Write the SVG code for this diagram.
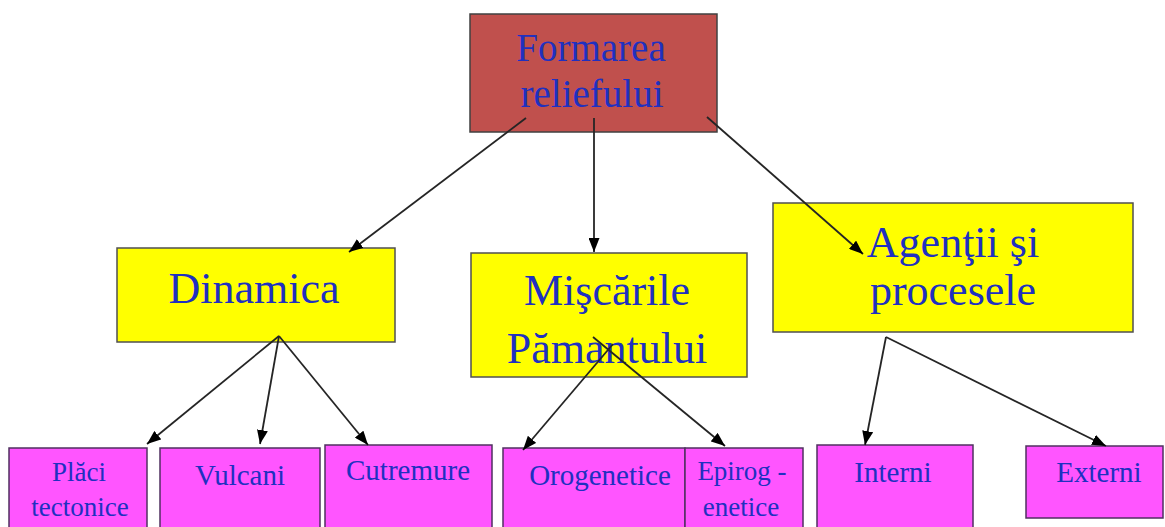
<svg xmlns="http://www.w3.org/2000/svg" width="1165" height="527" viewBox="0 0 1165 527">
  <style>
    .root { fill: #C0504D; stroke: #404040; stroke-width: 1.5; }
    .mid { fill: #FFFF00; stroke: #505050; stroke-width: 1.5; }
    .leaf { fill: #FF55FF; stroke: #503060; stroke-width: 1.5; }
    text { font-family: "Liberation Serif", "Times New Roman", serif; fill: #2030C0; text-anchor: middle; }
    .big { font-size: 44px; }
    .top { font-size: 39px; }
    .small { font-size: 29px; }
    .tiny { font-size: 27px; }
    .edge { stroke: #252525; stroke-width: 1.8; fill: none; marker-end: url(#arrow); }
  </style>
  <defs>
    <marker id="arrow" viewBox="0 0 14 11" refX="14" refY="5.5" markerWidth="14" markerHeight="11" markerUnits="userSpaceOnUse" orient="auto">
      <path d="M0,0 L14,5.5 L0,11 Z" fill="#000"/>
    </marker>
  </defs>

  <g id="node-formarea">
    <rect class="root" x="470" y="14" width="247" height="118"/>
    <text class="top" x="591" y="61">Formarea</text>
    <text class="top" x="592" y="107">reliefului</text>
  </g>

  <g id="node-dinamica">
    <rect class="mid" x="117" y="248" width="278" height="94"/>
    <text class="big" x="254" y="303">Dinamica</text>
  </g>

  <g id="node-miscarile">
    <rect class="mid" x="471" y="253" width="276" height="124"/>
    <text class="big" x="607" y="305">Mişcările</text>
    <text class="big" x="607" y="363">Pămantului</text>
  </g>

  <g id="node-agentii">
    <rect class="mid" x="773" y="203" width="360" height="129"/>
    <text class="big" x="953" y="257">Agenţii şi</text>
    <text class="big" x="953" y="305">procesele</text>
  </g>

  <g id="node-placi">
    <rect class="leaf" x="9" y="448" width="138" height="90"/>
    <text class="tiny" x="79" y="481">Plăci</text>
    <text class="tiny" x="80" y="516">tectonice</text>
  </g>

  <g id="node-vulcani">
    <rect class="leaf" x="160" y="448" width="160" height="90"/>
    <text class="small" x="240" y="485">Vulcani</text>
  </g>

  <g id="node-cutremure">
    <rect class="leaf" x="325" y="445" width="167" height="93"/>
    <text class="small" x="408" y="480">Cutremure</text>
  </g>

  <g id="node-orogenetice">
    <rect class="leaf" x="503" y="448" width="182" height="90"/>
    <text class="small" x="600" y="485">Orogenetice</text>
  </g>

  <g id="node-epirogenetice">
    <rect class="leaf" x="685" y="448" width="118" height="90"/>
    <text class="tiny" x="742" y="480">Epirog -</text>
    <text class="tiny" x="741" y="516">enetice</text>
  </g>

  <g id="node-interni">
    <rect class="leaf" x="817" y="445" width="156" height="93"/>
    <text class="small" x="893" y="482">Interni</text>
  </g>

  <g id="node-externi">
    <rect class="leaf" x="1026" y="446" width="137" height="72"/>
    <text class="small" x="1099" y="482">Externi</text>
  </g>

  <g id="connectors">
    <line class="edge" x1="526" y1="118" x2="349" y2="252"/>
    <line class="edge" x1="594" y1="118" x2="594" y2="252"/>
    <line class="edge" x1="707" y1="117" x2="863" y2="254"/>
    <line class="edge" x1="279" y1="336" x2="147" y2="444"/>
    <line class="edge" x1="279" y1="336" x2="260" y2="444"/>
    <line class="edge" x1="279" y1="336" x2="368" y2="445"/>
    <line class="edge" x1="613" y1="344" x2="523" y2="450"/>
    <line class="edge" x1="593" y1="337" x2="725" y2="446"/>
    <line class="edge" x1="886" y1="337" x2="865" y2="445"/>
    <line class="edge" x1="886" y1="337" x2="1106" y2="446"/>
  </g>
</svg>
